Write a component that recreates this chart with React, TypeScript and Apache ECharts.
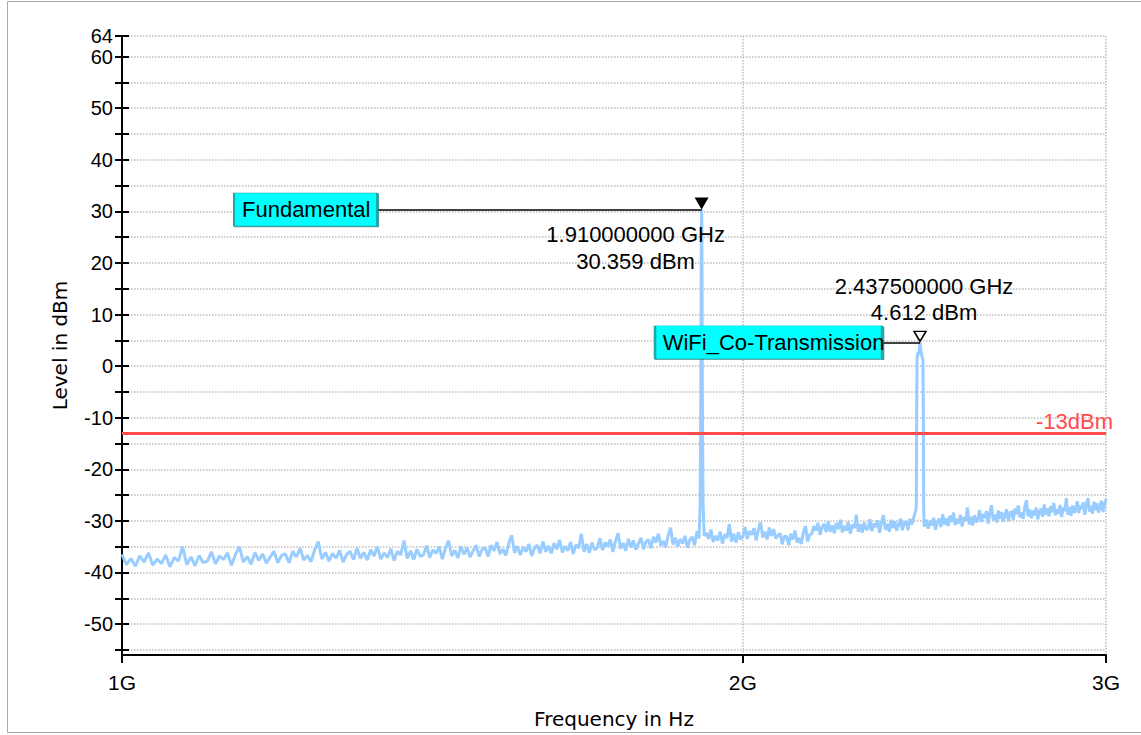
import React, { useEffect, useRef } from "react";
import * as echarts from "echarts";

// ---------- data ----------
const yTickValues = [-55, -50, -45, -40, -35, -30, -25, -20, -15, -10, -5, 0, 5, 10, 15, 20, 25, 30, 35, 40, 45, 50, 55, 60, 64];
const yLabelValues = [-50, -40, -30, -20, -10, 0, 10, 20, 30, 40, 50, 60];
const yTopLabelValues = [64];
const xTickValuesGHz = [1, 2, 3];

const limitLevel = -13;
const limitLabel = "-13dBm";

const markerNames = ["Fundamental", "WiFi_Co-Transmission"];
const markerFreqGHz = [1.91, 2.4375];
const markerLevelDbm = [30.359, 4.612];

// sweep grid: 1.000 GHz .. 3.000 GHz, 5 MHz steps (401 points)
const sweepStartGHz = 1.0;
const sweepStepGHz = 0.005;
const noiseLevels = [
  -36.5, -38.5, -37.3, -38.8, -36.8, -38.0, -36.2, -38.6, -37.4, -38.3, -36.6, -38.9, -37.1, -37.8, -35.0, -38.5, -37.0, -38.7, -36.7, -38.1,
  -37.8, -36.0, -38.3, -36.8, -37.5, -36.2, -38.6, -36.5, -35.0, -38.0, -36.9, -38.4, -36.1, -37.7, -36.4, -38.2, -37.0, -35.9, -38.1, -36.7,
  -36.4, -38.1, -35.9, -37.0, -35.3, -37.6, -36.7, -37.9, -35.6, -34.0, -37.4, -36.1, -37.8, -36.3, -37.2, -35.7, -38.0, -36.5, -35.9, -37.5,
  -35.3, -37.3, -36.1, -37.6, -35.6, -36.8, -35.0, -37.4, -36.2, -37.1, -35.4, -37.7, -35.9, -36.6, -33.8, -37.3, -35.8, -37.5, -35.5, -36.9,
  -36.6, -34.8, -37.1, -35.6, -36.3, -35.0, -37.4, -35.3, -33.8, -36.8, -35.7, -37.2, -34.9, -36.5, -35.2, -37.0, -35.8, -34.7, -36.9, -35.5,
  -35.2, -36.9, -34.7, -35.8, -34.1, -36.4, -35.5, -36.7, -34.4, -32.8, -36.2, -34.9, -36.6, -35.1, -36.0, -34.5, -36.8, -35.3, -34.7, -36.3,
  -34.0, -36.0, -34.8, -36.3, -34.3, -35.5, -33.7, -36.1, -34.9, -35.8, -34.1, -36.4, -34.6, -35.3, -32.5, -36.0, -34.5, -36.2, -34.2, -35.6,
  -35.2, -33.4, -35.7, -34.2, -34.9, -33.6, -36.0, -33.9, -32.4, -35.4, -34.3, -35.8, -33.5, -35.1, -33.8, -35.6, -34.4, -33.3, -35.5, -34.1,
  -33.6, -35.3, -33.1, -34.2, -32.5, -34.8, -33.9, -35.1, -32.8, -31.3, -34.6, -33.3, -35.0, -33.5, -34.4, -32.9, -35.2, -33.7, -33.1, -34.7,
  -32.0, -33.0, -33.0, -33.0, -32.3, -33.5, -31.7, -34.1, -32.9, -33.8, -32.1, -34.4, -32.6, -33.3, -30.6, -34.0, -32.5, -34.2, -32.2, -33.6,
  -33.0, -31.2, -33.5, -32.0, -32.7, -31.4, -33.8, -31.7, -30.3, -33.2, -32.1, -33.6, -31.3, -32.9, -31.6, -33.4, -32.8, -32.4, -34.5, -33.0,
  -33.0, -34.7, -32.5, -33.6, -31.9, -34.2, -33.3, -34.5, -32.2, -31.0, -34.0, -32.7, -32.5, -31.0, -31.9, -30.4, -32.7, -31.2, -30.6, -32.2,
  -30.1, -32.1, -30.9, -32.4, -30.4, -31.6, -29.8, -32.2, -31.0, -31.9, -30.2, -32.5, -30.7, -31.4, -28.8, -32.1, -30.6, -32.3, -30.3, -31.7,
  -31.5, -29.7, -32.0, -30.5, -31.2, -29.9, -32.3, -30.2, -28.9, -31.7, -30.6, -32.1, -29.8, -31.4, -30.1, -31.9, -30.7, -29.6, -31.8, -30.4,
  -30.1, -31.8, -29.6, -30.7, -29.4, -28.2, -30.0, -30.0, -30.0, -30.0, -31.1, -29.8, -31.5, -30.0, -30.9, -29.4, -31.7, -30.2, -29.6, -31.2,
  -28.7, -30.7, -29.5, -31.0, -29.0, -30.2, -28.4, -30.8, -29.6, -30.5, -28.8, -31.1, -29.3, -30.0, -27.4, -30.7, -29.2, -30.9, -28.9, -30.3,
  -29.7, -27.9, -30.2, -28.7, -29.4, -28.1, -30.5, -28.4, -27.0, -29.9, -28.8, -30.3, -28.0, -29.6, -28.3, -30.1, -28.9, -27.8, -30.0, -28.6,
  -28.1, -29.8, -27.6, -28.7, -27.0, -29.3, -28.4, -29.6, -27.3, -26.0, -29.1, -27.8, -29.5, -28.0, -28.9, -27.4, -29.7, -28.2, -27.6, -29.2,
  -26.8, -28.8, -27.6, -29.1, -27.1, -28.3, -26.5, -28.9, -27.7, -28.6, -26.9, -29.2, -27.4, -28.1, -25.6, -28.8, -27.3, -29.0, -27.0, -28.4,
  -28.0, -26.2, -28.5, -27.0, -27.7, -26.4, -28.8, -26.7, -25.6, -28.2, -27.1, -28.6, -26.3, -27.9, -26.6, -28.4, -27.2, -26.1, -28.3, -26.9,
  -25.8,
];

// carrier peaks (finer sampling around the two carriers)
const peak1FreqGHz = [1.9045, 1.907, 1.9085, 1.9094, 1.91, 1.9106, 1.9115, 1.913, 1.9155];
const peak1Level = [-33.4, -27.0, -2.0, 26.5, 30.359, 26.8, -3.0, -26.0, -32.9];
const peak2FreqGHz = [2.4265, 2.4275, 2.4285, 2.4295, 2.432, 2.4345, 2.4375, 2.44, 2.4425, 2.4455, 2.4465, 2.4475, 2.4485];
const peak2Level = [-28.0, -26.5, -8.0, 1.5, 2.8, 2.2, 4.612, 3.0, 2.0, 1.2, -9.0, -27.5, -30.8];

// ---------- build trace ----------
function buildTrace(): [number, number][] {
  const pts: [number, number][] = [];
  noiseLevels.forEach((v, i) => {
    const f = +(sweepStartGHz + i * sweepStepGHz).toFixed(4);
    if (f > peak1FreqGHz[0] && f < peak1FreqGHz[peak1FreqGHz.length - 1]) return;
    if (f > peak2FreqGHz[0] && f < peak2FreqGHz[peak2FreqGHz.length - 1]) return;
    pts.push([f, v]);
  });
  peak1FreqGHz.forEach((f, i) => pts.push([f, peak1Level[i]]));
  peak2FreqGHz.forEach((f, i) => pts.push([f, peak2Level[i]]));
  pts.sort((a, b) => a[0] - b[0]);
  return pts;
}

const FONT = "Liberation Sans, Arial, sans-serif";

export default function App() {
  const ref = useRef<HTMLDivElement>(null);

  useEffect(() => {
    if (!ref.current) return;
    const chart = echarts.init(ref.current, null, { renderer: "svg" });
    const trace = buildTrace();

    const readout = (i: number) =>
      `${markerFreqGHz[i].toFixed(9)} GHz\n${markerLevelDbm[i].toFixed(3)} dBm`;

    const boxStyle = {
      color: "#00ffff",
      borderColor: "#1aa9a9",
      borderWidth: 1,
      shadowColor: "rgba(0,110,110,0.7)",
      shadowOffsetX: 1,
      shadowOffsetY: 1,
      shadowBlur: 0,
    };

    chart.setOption({
      animation: false,
      backgroundColor: "#ffffff",
      textStyle: { fontFamily: FONT },
      graphic: [
        {
          type: "rect",
          silent: true,
          z: -10,
          shape: { x: 7.5, y: 1.5, width: 1140, height: 731 },
          style: { fill: "none", stroke: "#a9a9a9", lineWidth: 1 },
        },
      ],
      grid: { left: 122, right: 35, top: 36, bottom: 80 },
      xAxis: {
        type: "log",
        logBase: 10,
        min: 1,
        max: 3,
        name: "Frequency in Hz",
        nameLocation: "middle",
        nameGap: 54,
        nameTextStyle: { fontFamily: "DejaVu Sans", fontSize: 20, color: "#000" },
        axisLine: { show: true, onZero: false, lineStyle: { color: "#000", width: 2 } },
        axisTick: { show: true, customValues: xTickValuesGHz, length: 8, lineStyle: { color: "#000", width: 2 } },
        axisLabel: {
          show: true,
          customValues: xTickValuesGHz,
          showMinLabel: true,
          showMaxLabel: true,
          formatter: (v: number) => `${Math.round(v)}G`,
          fontSize: 21,
          color: "#000",
          margin: 17,
          fontFamily: FONT,
        },
        splitLine: { show: true, lineStyle: { color: "#bdbdbd", width: 1.5, type: [1.5, 1.5] } },
        minorTick: { show: false },
        minorSplitLine: { show: false },
      },
      yAxis: [
        {
          type: "value",
          min: -56,
          max: 64,
          name: "Level in dBm",
          nameLocation: "middle",
          nameGap: 52,
          nameTextStyle: { fontFamily: "DejaVu Sans", fontSize: 20, color: "#000" },
          axisLine: { show: true, onZero: false, lineStyle: { color: "#000", width: 2 } },
          axisTick: { show: true, customValues: yTickValues, length: 7, lineStyle: { color: "#000", width: 2 } },
          axisLabel: {
            show: true,
            customValues: yLabelValues,
            showMinLabel: true,
            showMaxLabel: true,
            hideOverlap: false,
            fontSize: 20,
            color: "#000",
            margin: 9,
            fontFamily: FONT,
          },
          splitLine: { show: true, lineStyle: { color: "#bdbdbd", width: 1.5, type: [1.5, 1.5] } },
        },
        {
          type: "value",
          min: -56,
          max: 64,
          position: "left",
          axisLine: { show: false },
          axisTick: { show: true, inside: true, customValues: yTickValues, length: 7, lineStyle: { color: "#000", width: 2 } },
          axisLabel: {
            show: true,
            customValues: yTopLabelValues,
            showMaxLabel: true,
            fontSize: 20,
            lineHeight: 18,
            color: "#000",
            margin: 9,
            fontFamily: FONT,
          },
          splitLine: { show: false },
        },
      ],
      series: [
        {
          type: "line",
          data: trace,
          xAxisIndex: 0,
          yAxisIndex: 0,
          showSymbol: false,
          symbol: "none",
          silent: true,
          lineStyle: { color: "#99ccff", width: 3 },
          z: 2,
          markLine: {
            silent: true,
            symbol: ["none", "none"],
            z: 5,
            data: [
              {
                yAxis: limitLevel,
                lineStyle: { color: "#ff4b4b", width: 3, type: "solid" },
                label: {
                  show: true,
                  formatter: limitLabel,
                  position: "insideEndTop",
                  distance: [-7, 1],
                  color: "#ff4b4b",
                  fontSize: 22,
                  fontFamily: FONT,
                },
              },
              [
                {
                  coord: [1.329, markerLevelDbm[0]],
                  lineStyle: { color: "#000", width: 1.5, type: "solid" },
                  label: { show: false },
                },
                { coord: [markerFreqGHz[0], markerLevelDbm[0]] },
              ],
              [
                {
                  coord: [2.336, markerLevelDbm[1]],
                  lineStyle: { color: "#000", width: 1.5, type: "solid" },
                  label: { show: false },
                },
                { coord: [markerFreqGHz[1], markerLevelDbm[1]] },
              ],
            ],
          },
          markPoint: {
            silent: true,
            z: 6,
            data: [
              {
                coord: [markerFreqGHz[0], markerLevelDbm[0]],
                symbol: "triangle",
                symbolRotate: 180,
                symbolSize: [14, 12],
                symbolOffset: [0, -6],
                itemStyle: { color: "#000" },
                label: { show: false },
              },
              {
                coord: [markerFreqGHz[1], markerLevelDbm[1]],
                symbol: "triangle",
                symbolRotate: 180,
                symbolSize: [12, 10],
                symbolOffset: [0, -6],
                itemStyle: { color: "#fff", borderColor: "#000", borderWidth: 1.5 },
                label: { show: false },
              },
              {
                coord: [1.2274, markerLevelDbm[0]],
                symbol: "rect",
                symbolSize: [143, 33],
                itemStyle: boxStyle,
                label: {
                  show: true,
                  formatter: markerNames[0],
                  position: "insideLeft",
                  distance: 9,
                  color: "#000",
                  fontSize: 22,
                  fontFamily: FONT,
                },
              },
              {
                coord: [2.0582, markerLevelDbm[1]],
                symbol: "rect",
                symbolSize: [227, 33],
                itemStyle: boxStyle,
                label: {
                  show: true,
                  formatter: markerNames[1],
                  position: "insideLeft",
                  distance: 9,
                  color: "#000",
                  fontSize: 22,
                  fontFamily: FONT,
                  overflow: "none",
                },
              },
              {
                coord: [markerFreqGHz[0], markerLevelDbm[0]],
                symbol: "circle",
                symbolSize: 1,
                itemStyle: { color: "transparent" },
                label: {
                  show: true,
                  formatter: readout(0),
                  position: "inside",
                  offset: [-66, 38],
                  align: "center",
                  verticalAlign: "middle",
                  lineHeight: 27,
                  color: "#000",
                  fontSize: 22,
                  fontFamily: FONT,
                },
              },
              {
                coord: [markerFreqGHz[1], markerLevelDbm[1]],
                symbol: "circle",
                symbolSize: 1,
                itemStyle: { color: "transparent" },
                label: {
                  show: true,
                  formatter: readout(1),
                  position: "inside",
                  offset: [4, -43],
                  align: "center",
                  verticalAlign: "middle",
                  lineHeight: 26,
                  color: "#000",
                  fontSize: 22,
                  fontFamily: FONT,
                },
              },
            ],
          },
        },
      ],
    });

    return () => chart.dispose();
  }, []);

  return (
    <div
      ref={ref}
      style={{ position: "fixed", left: 0, top: 0, width: 1141, height: 735, background: "#fff" }}
    />
  );
}
